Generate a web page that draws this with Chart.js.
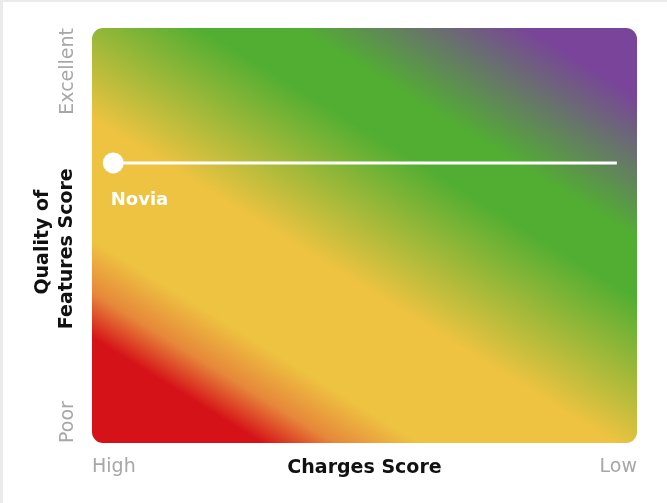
<!DOCTYPE html>
<html>
<head>
<meta charset="utf-8">
<script src="https://cdn.jsdelivr.net/npm/chart.js@4.4.1/dist/chart.umd.min.js"></script>
<style>
  html, body { margin: 0; padding: 0; background: #fff; }
  #wrap { position: relative; width: 667px; height: 503px; }
  #edge { position: absolute; left: 0; top: 0; right: 0; bottom: 0;
          border-top: 2px solid #ebebeb; border-left: 3px solid #ebebeb; pointer-events: none; }
</style>
</head>
<body>
<div id="wrap">
  <canvas id="scoreChart"></canvas>
  <div id="edge"></div>
</div>
<script>
// Novia: charges score (0 = high charges, 100 = low) and quality score
const seriesLabels = ['Novia'];
const chargesScore = [3.9, 96.3];
const qualityScore = [67.5, 67.5];

const xTickValues = [0, 100];
const xTickLabels = ['High', 'Low'];
const yTickValues = [0, 100];
const yTickLabels = ['Poor', 'Excellent'];

const FONT = '"DejaVu Sans", sans-serif';
const TICK_GREY = '#a7a7a7';

// diagonal colour field behind the plot
const backgroundField = {
    id: 'backgroundField',
    beforeDatasetsDraw(chart) {
        const { ctx, chartArea: a } = chart;
        const w = a.right - a.left, h = a.bottom - a.top;
        const gx = 0.527, gy = 0.85;
        const len = w * gx + h * gy;
        const grad = ctx.createLinearGradient(a.left, a.bottom, a.left + gx * len, a.bottom - gy * len);
        grad.addColorStop(0, '#d51218');
        grad.addColorStop(0.14, '#d51218');
        grad.addColorStop(0.20, '#e6873a');
        grad.addColorStop(0.27, '#eec341');
        grad.addColorStop(0.43, '#eec341');
        grad.addColorStop(0.64, '#52ae32');
        grad.addColorStop(0.72, '#52ae32');
        grad.addColorStop(0.91, '#79449a');
        grad.addColorStop(1, '#79449a');
        ctx.save();
        ctx.beginPath();
        ctx.roundRect(a.left, a.top, w, h, 11);
        ctx.fillStyle = grad;
        ctx.fill();
        ctx.restore();
    }
};

// rotated Poor / Excellent labels and the point name
const extraLabels = {
    id: 'extraLabels',
    afterDraw(chart) {
        const { ctx } = chart;
        const yScale = chart.scales.y;
        ctx.save();
        ctx.fillStyle = TICK_GREY;
        ctx.font = '19px ' + FONT;
        ctx.textBaseline = 'alphabetic';
        yTickValues.forEach((v, i) => {
            const py = yScale.getPixelForValue(v);
            ctx.save();
            ctx.translate(73, py);
            ctx.rotate(-Math.PI / 2);
            ctx.textAlign = i === 0 ? 'left' : 'right';
            ctx.fillText(yTickLabels[i], 0, 0);
            ctx.restore();
        });
        const pt = chart.getDatasetMeta(0).data[0];
        ctx.fillStyle = '#ffffff';
        ctx.font = 'bold 18px ' + FONT;
        ctx.textAlign = 'left';
        ctx.fillText(seriesLabels[0], pt.x - 2.5, pt.y + 42);
        ctx.restore();
    }
};

new Chart(document.getElementById('scoreChart'), {
    type: 'line',
    data: {
        datasets: [{
            label: seriesLabels[0],
            data: chargesScore.map((x, i) => ({ x: x, y: qualityScore[i] })),
            borderColor: '#ffffff',
            borderWidth: 3,
            pointRadius: [10.5, 0],
            pointBorderWidth: 0,
            pointBackgroundColor: '#ffffff',
            tension: 0
        }]
    },
    options: {
        responsive: true,
        maintainAspectRatio: false,
        animation: false,
        layout: { padding: { top: 28, right: 30, bottom: 0, left: 0 } },
        plugins: { legend: { display: false }, tooltip: { enabled: false } },
        scales: {
            x: {
                type: 'linear',
                min: 0,
                max: 100,
                grid: { display: false, drawTicks: false },
                border: { display: false },
                afterBuildTicks: s => { s.ticks = xTickValues.map(v => ({ value: v })); },
                afterFit: s => { s.height = 60; },
                ticks: {
                    align: 'inner',
                    padding: 13,
                    color: TICK_GREY,
                    font: { family: FONT, size: 19 },
                    maxRotation: 0,
                    callback: (v, i) => xTickLabels[i]
                },
                title: {
                    display: true,
                    text: 'Charges Score',
                    color: '#111111',
                    font: { family: FONT, size: 19, weight: 'bold' },
                    padding: { top: 0, bottom: 24 }
                }
            },
            y: {
                type: 'linear',
                min: 0,
                max: 100,
                grid: { display: false, drawTicks: false },
                border: { display: false },
                ticks: { display: false },
                afterFit: s => { s.width = 92; },
                title: {
                    display: true,
                    // trailing spaces nudge each centred line down a little, as in the source
                    text: ['Quality of  ', 'Features Score    '],
                    color: '#111111',
                    font: { family: FONT, size: 19, weight: 'bold', lineHeight: 1.26 },
                    padding: { top: 31, bottom: 0 }
                }
            }
        }
    },
    plugins: [backgroundField, extraLabels]
});
</script>
</body>
</html>
